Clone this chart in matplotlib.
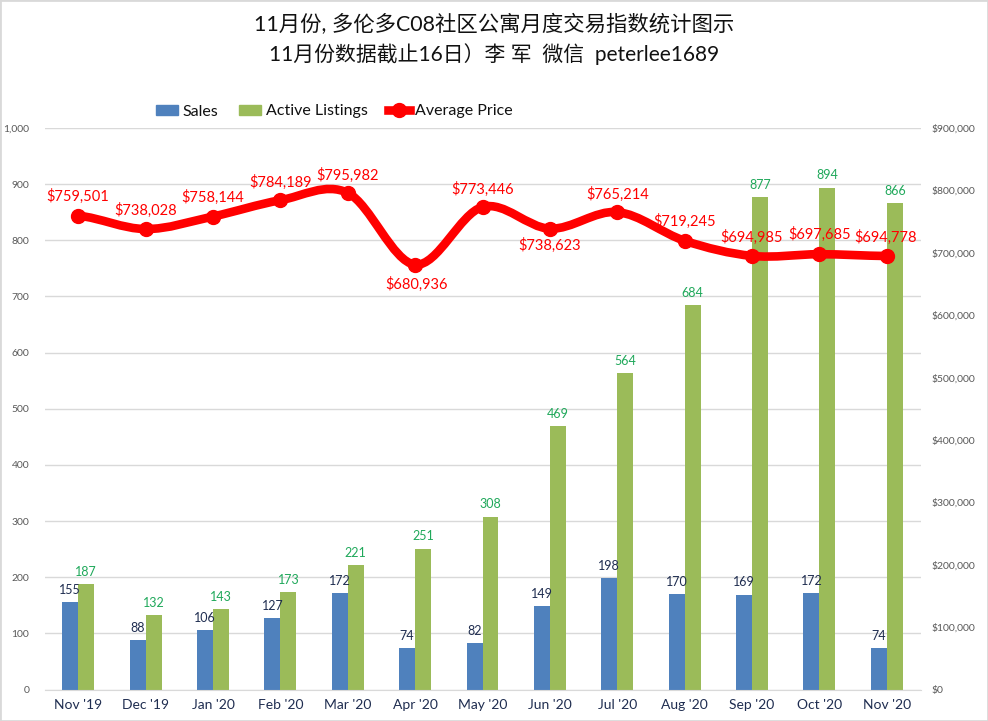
import matplotlib
matplotlib.use('Agg')
import matplotlib.pyplot as plt
from matplotlib.path import Path
from matplotlib.patches import PathPatch, Patch, Rectangle
from matplotlib.lines import Line2D
from matplotlib.ticker import FuncFormatter, MultipleLocator

plt.rcParams['font.family'] = ['Lato', 'Noto Sans CJK SC', 'DejaVu Sans']

months = ["Nov '19", "Dec '19", "Jan '20", "Feb '20", "Mar '20", "Apr '20", "May '20",
          "Jun '20", "Jul '20", "Aug '20", "Sep '20", "Oct '20", "Nov '20"]
sales = [155, 88, 106, 127, 172, 74, 82, 149, 198, 170, 169, 172, 74]
listings = [187, 132, 143, 173, 221, 251, 308, 469, 564, 684, 877, 894, 866]
prices = [759501, 738028, 758144, 784189, 795982, 680936, 773446,
          738623, 765214, 719245, 694985, 697685, 694778]
# hand-placed label offsets, in pixels, relative to each price point
price_label_dx = [0, 0, 0, 0, 0, 1, 0, 0, 0, 0, 0, 0, -1]
price_label_dy = [19, 19, 19, 18, 18, -20, 18, -17, 18, 19, 19, 20, 19]

W, H = 988, 721
fig = plt.figure(figsize=(W / 100, H / 100), dpi=100, facecolor='white')
fig.add_artist(Rectangle((0, 0), 1, 1, transform=fig.transFigure, fill=False,
                         edgecolor='#D9D9D9', linewidth=2))

L, R, T, B = 44.5, 920.5, 128, 689.5
ax = fig.add_axes([L / W, 1 - B / H, (R - L) / W, (B - T) / H])
ax.set_xlim(-0.5, len(months) - 0.5)
ax.set_ylim(0, 1000)
ax.yaxis.set_major_locator(MultipleLocator(100))
ax.yaxis.set_major_formatter(FuncFormatter(lambda v, _: f'{int(v):,}'))
ax.grid(axis='y', color='#D9D9D9', linewidth=1)
ax.set_axisbelow(True)
for s in ax.spines.values():
    s.set_visible(False)
ax.spines['bottom'].set_visible(True)
ax.spines['bottom'].set_color('#D9D9D9')
ax.tick_params(axis='y', length=0, labelsize=7.5, labelcolor='#595959', pad=11)
ax.tick_params(axis='x', length=0, labelsize=10, labelcolor='#1F2D50', pad=7)
ax.set_xticks(range(len(months)))
ax.set_xticklabels(months)

BLUE, GREEN = '#4F81BD', '#9BBB59'
w = 16 / 67.4
xs = list(range(len(months)))
ax.bar([x - w / 2 for x in xs], sales, w, color=BLUE, zorder=2)
ax.bar([x + w / 2 for x in xs], listings, w, color=GREEN, zorder=2)
for x, v in zip(xs, sales):
    ax.annotate(str(v), (x - w / 2, v), xytext=(0, 4.5), textcoords='offset points',
                ha='center', va='bottom', fontsize=9, color='#1F2D50', zorder=6)
for x, v in zip(xs, listings):
    ax.annotate(str(v), (x + w / 2, v), xytext=(0, 4.5), textcoords='offset points',
                ha='center', va='bottom', fontsize=9, color='#1FA85A', zorder=6)

ax2 = ax.twinx()
ax2.set_ylim(0, 900000)
ax2.yaxis.set_major_locator(MultipleLocator(100000))
ax2.yaxis.set_major_formatter(FuncFormatter(lambda v, _: f'${int(v):,}'))
for s in ax2.spines.values():
    s.set_visible(False)
ax2.tick_params(axis='y', length=0, labelsize=7.5, labelcolor='#595959', pad=8)

# Excel-style smoothed line: cubic Bezier segments through the values
verts = [(xs[0], prices[0])]
codes = [Path.MOVETO]
n = len(xs)
for i in range(n - 1):
    p0 = prices[max(i - 1, 0)]
    p1, p2 = prices[i], prices[i + 1]
    p3 = prices[min(i + 2, n - 1)]
    verts += [(i + 1 / 3, p1 + (p2 - p0) / 6),
              (i + 2 / 3, p2 - (p3 - p1) / 6),
              (i + 1, p2)]
    codes += [Path.CURVE4] * 3
RED = '#FF0000'
ax2.add_patch(PathPatch(Path(verts, codes), fill=False, edgecolor=RED, linewidth=6.2,
                        capstyle='round', joinstyle='round', zorder=4))
ax2.plot(xs, prices, ls='none', marker='o', ms=10, color=RED, zorder=5)
for x, v, dx, dy in zip(xs, prices, price_label_dx, price_label_dy):
    ax2.annotate(f'${v:,}', (x, v), xytext=(dx * 0.72, dy * 0.72), textcoords='offset points',
                 ha='center', va='center', fontsize=10.5, color=RED, zorder=6)

fig.text(494 / W, 1 - 25 / H, '11月份, 多伦多C08社区公寓月度交易指数统计图示',
         ha='center', va='center', fontsize=15.4, color='#111111')
fig.text(494 / W, 1 - 54 / H, '11月份数据截止16日）李 军  微信  peterlee1689',
         ha='center', va='center', fontsize=15.0, color='#111111')

handles = [Patch(color=BLUE), Patch(color=GREEN),
           Line2D([], [], color=RED, lw=6.2, marker='o', ms=10)]
fig.legend(handles, ['Sales', 'Active Listings', 'Average Price'], ncol=3, frameon=False,
           loc='center', bbox_to_anchor=(334 / W, 1 - 111.5 / H), fontsize=11.5,
           labelcolor='#111111', handlelength=1.4, handleheight=0.6, handletextpad=0.3,
           columnspacing=1.25)

fig.savefig('out.png', dpi=100, facecolor='white')
